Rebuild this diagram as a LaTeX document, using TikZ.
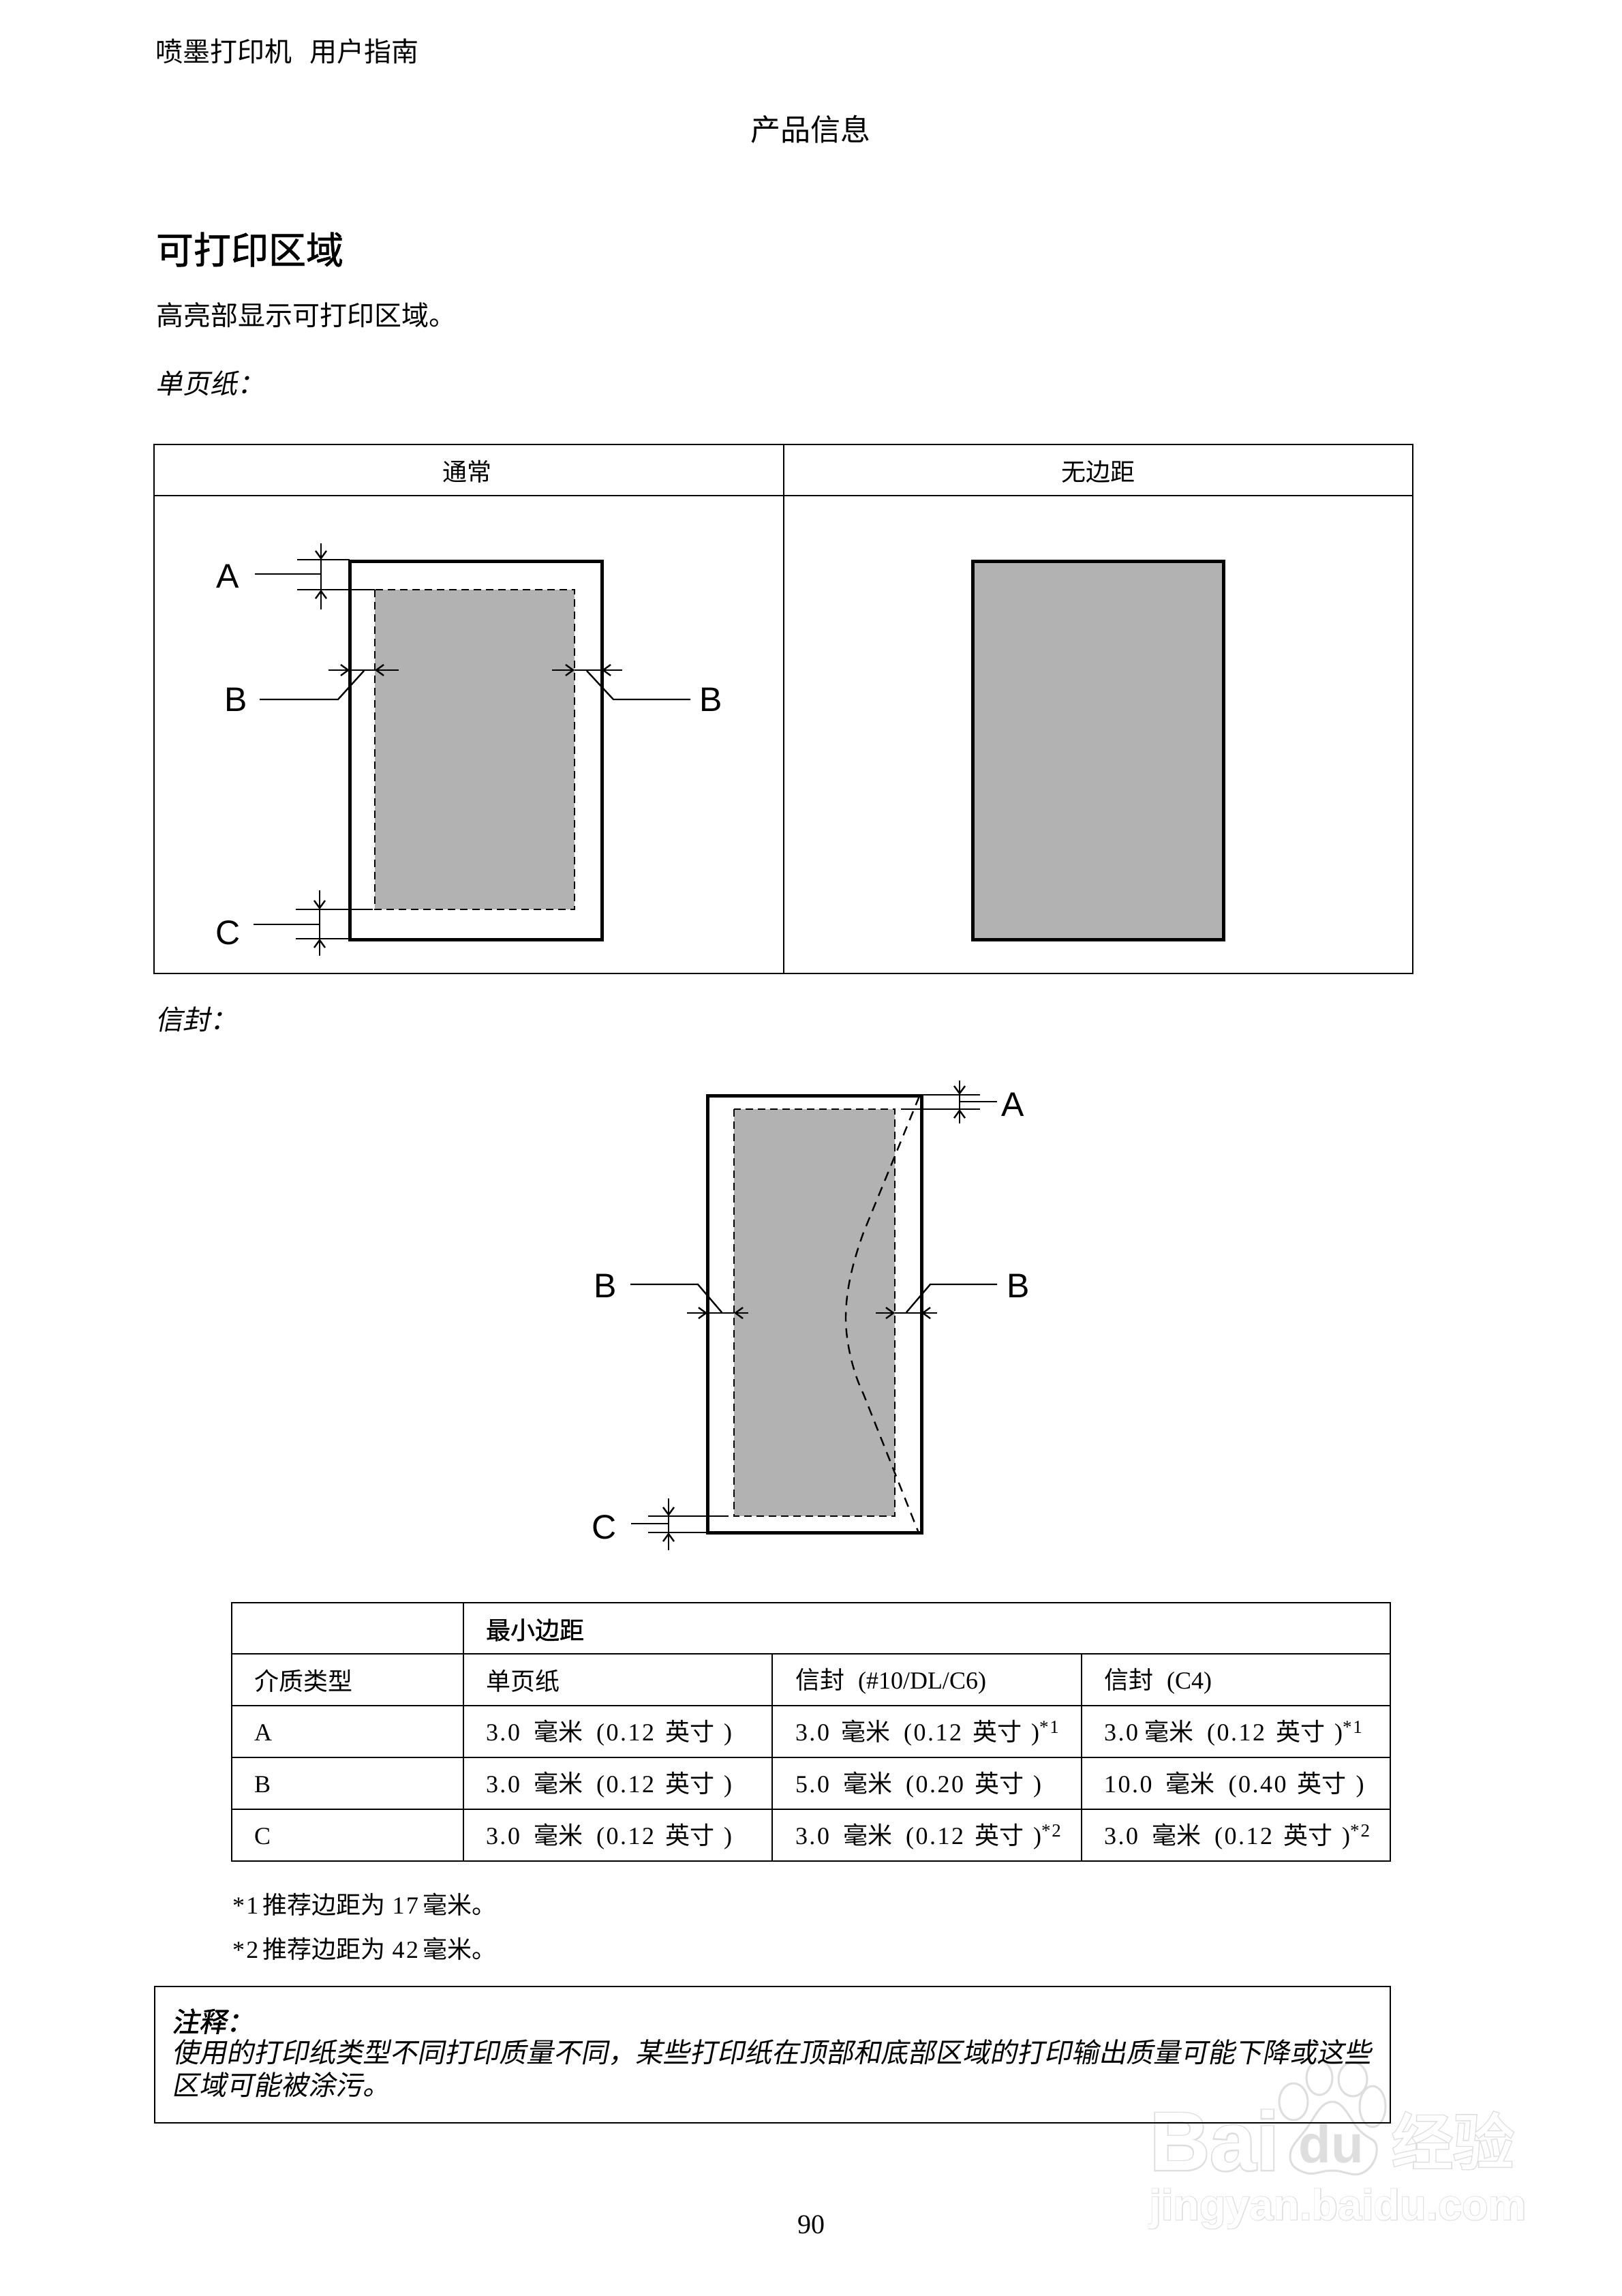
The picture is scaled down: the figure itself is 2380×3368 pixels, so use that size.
\documentclass[tikz,border=0pt]{standalone}
\usepackage{fontspec}
\usetikzlibrary{arrows.meta}
\setmainfont{Liberation Serif}
\newfontfamily\tabfont[LetterSpace=7]{Liberation Serif}
\newfontfamily\cjk{Noto Sans CJK SC}
\newfontfamily\cjkit[FakeSlant=0.2]{Noto Sans CJK SC}
\newfontfamily\cjkbf[FakeBold=1.2]{Noto Sans CJK SC}
\newfontfamily\cjkbi[FakeBold=1.5,FakeSlant=0.2]{Noto Sans CJK SC}
\newfontfamily\cjkout[FakeBold=5]{Noto Sans CJK SC}
\newfontfamily\cjkin[FakeBold=2]{Noto Sans CJK SC}
\newfontfamily\labelfont{Liberation Sans}
\newfontfamily\wmout[BoldFeatures={FakeBold=3}]{Liberation Sans}
\newcommand{\zh}[1]{{\cjk #1}}
\newcommand{\fsz}[1]{\fontsize{#1}{#1}\selectfont}
\newcommand{\mm}[3][20pt]{{\tabfont #2\hspace{#1}\zh{毫米}\hspace{20pt}(#3\hspace{16pt}\zh{英寸}\hspace{14pt})}}
\newcommand{\supmark}[1]{\raisebox{11pt}{\fsz{27}\tabfont*#1}}
\definecolor{areagray}{RGB}{178,178,178}
\definecolor{wmgray}{RGB}{222,222,222}
\tikzset{
  x=1pt,y=-1pt,
  txt/.style={inner sep=0pt,outer sep=0pt,anchor=west,font=\fsz{40}},
  ctr/.style={inner sep=0pt,outer sep=0pt,anchor=center,font=\fsz{36}},
  cell/.style={inner sep=0pt,outer sep=0pt,anchor=west,font=\fsz{36}},
  rule/.style={line width=2.2pt,black},
  heavy/.style={line width=5pt,black,line join=miter},
  thin line/.style={line width=2.4pt,black},
  flap/.style={line width=2.4pt,black,dash pattern=on 14pt off 10pt},
  dimr/.style={line width=2.4pt,black,-{Straight Barb[length=11pt,width=16pt]}},
  area edge/.style={black,line width=2pt,dash pattern=on 11pt off 7pt},
  marker/.style={inner sep=0pt,outer sep=0pt,anchor=center,font=\labelfont\fsz{50}},
  wmo/.style={inner sep=0pt,outer sep=0pt,text=wmgray},
  wmi/.style={inner sep=0pt,outer sep=0pt,text=white},
  paw/.style={draw=wmgray,line width=3pt,fill=white},
}
\begin{document}
\begin{tikzpicture}
\useasboundingbox (0,0) rectangle (2380,3368);
\fill[white] (0,0) rectangle (2380,3368);

% watermark, behind the page
\node[wmo,font=\wmout\bfseries\fsz{122}] (wmbaio) at (1782,3140) {Bai};
\node[wmi,font=\labelfont\bfseries\fsz{122}] (wmbaii) at (1782,3140) {Bai};
\draw[paw] (1898,3083) ellipse (21 and 27);
\draw[paw] (1936,3048) ellipse (19 and 25);
\draw[paw] (1985,3050) ellipse (21 and 25);
\draw[paw] (2014,3090) ellipse (19 and 30);
\draw[paw] plot[smooth cycle,tension=0.8] coordinates {(1955,3083) (1915,3125) (1893,3163) (1915,3187) (1955,3184) (2000,3187) (2020,3150) (1995,3125)};
\node[wmo,font=\labelfont\bfseries\fsz{78}] (wmdu) at (1953,3145) {du};
\node[wmo,font=\cjkout\fsz{90}] (wmjyo) at (2132,3140) {经验};
\node[wmi,font=\cjkin\fsz{90}] (wmjyi) at (2132,3140) {经验};
\node[wmo,font=\wmout\bfseries\fsz{63}] (wmurlo) at (1963,3240) {jingyan.baidu.com};
\node[wmi,font=\labelfont\bfseries\fsz{63}] (wmurli) at (1963,3240) {jingyan.baidu.com};

% page texts
\node[txt] (hdr) at (228,75) {\zh{喷墨打印机\hspace{26pt}用户指南}};
\node[txt,anchor=center,font=\fsz{44}] (chap) at (1189,190) {\zh{产品信息}};
\node[txt,font=\fsz{55}] (title) at (229,366) {\cjkbf 可打印区域};
\node[txt] (intro) at (229,462) {\zh{高亮部显示可打印区域。}};
\node[txt] (sheet) at (228,562) {\cjkit 单页纸：};
\node[txt] (envl) at (228,1495) {\cjkit 信封：};

% first table
\draw[rule] (226,652) rectangle (2073,1428);
\draw[rule] (226,727) -- (2073,727);
\draw[rule] (1150,652) -- (1150,1428);
\node[ctr] (h1) at (685,692) {\zh{通常}};
\node[ctr] (h2) at (1611,692) {\zh{无边距}};

% normal sheet
\fill[areagray] (550,865) rectangle (843,1334);
\draw[area edge] (550,865) rectangle (843,1334);
\draw[heavy] (513,823) rectangle (883,1378);
% A
\draw[thin line] (436,821) -- (513,821);
\draw[thin line] (436,865) -- (550,865);
\draw[thin line] (374,842) -- (471,842);
\draw[thin line] (471,821) -- (471,865);
\draw[dimr] (471,797) -- (471,821);
\draw[dimr] (471,894) -- (471,865);
\node[marker] (la) at (334,845) {A};
% B left
\draw[thin line] (513,983) -- (550,983);
\draw[dimr] (482,983) -- (513,983);
\draw[dimr] (585,983) -- (550,983);
\draw[thin line] (381,1026) -- (496,1026) -- (534,984);
\node[marker] (lb) at (346,1026) {B};
% B right
\draw[thin line] (843,983) -- (883,983);
\draw[dimr] (810,983) -- (843,983);
\draw[dimr] (913,983) -- (883,983);
\draw[thin line] (861,984) -- (900,1026) -- (1013,1026);
\node[marker] (rb) at (1043,1026) {B};
% C
\draw[thin line] (434,1334) -- (547,1334);
\draw[thin line] (434,1377) -- (513,1377);
\draw[thin line] (372,1356) -- (469,1356);
\draw[thin line] (469,1334) -- (469,1377);
\draw[dimr] (469,1306) -- (469,1334);
\draw[dimr] (469,1402) -- (469,1377);
\node[marker] (lc) at (335,1368) {C};

% borderless sheet
\draw[heavy,fill=areagray] (1427,823) rectangle (1795,1378);

% envelope
\fill[areagray] (1077,1627) rectangle (1313,2224);
\draw[area edge] (1077,1627) rectangle (1313,2224);
\draw[flap] (1349,1608) -- (1267,1808) .. controls (1250,1855) and (1241,1895) .. (1241,1934)
  .. controls (1241,1965) and (1250,2010) .. (1267,2045) -- (1347,2246);
\draw[heavy] (1038,1607) rectangle (1352,2248);
% A
\draw[thin line] (1352,1606) -- (1438,1606);
\draw[thin line] (1322,1627) -- (1438,1627);
\draw[thin line] (1408,1616) -- (1463,1616);
\draw[thin line] (1408,1606) -- (1408,1627);
\draw[dimr] (1408,1585) -- (1408,1606);
\draw[dimr] (1408,1648) -- (1408,1627);
\node[marker] (ea) at (1486,1620) {A};
% B left
\draw[thin line] (1038,1926) -- (1077,1926);
\draw[dimr] (1008,1926) -- (1038,1926);
\draw[dimr] (1098,1926) -- (1077,1926);
\draw[thin line] (925,1884) -- (1024,1884) -- (1059,1925);
\node[marker] (el) at (888,1886) {B};
% B right
\draw[thin line] (1313,1926) -- (1352,1926);
\draw[dimr] (1285,1926) -- (1313,1926);
\draw[dimr] (1375,1926) -- (1352,1926);
\draw[thin line] (1463,1884) -- (1365,1884) -- (1330,1925);
\node[marker] (er) at (1494,1886) {B};
% C
\draw[thin line] (951,2224) -- (1069,2224);
\draw[thin line] (951,2248) -- (1038,2248);
\draw[thin line] (926,2235) -- (981,2235);
\draw[thin line] (981,2224) -- (981,2248);
\draw[dimr] (981,2198) -- (981,2224);
\draw[dimr] (981,2274) -- (981,2248);
\node[marker] (ec) at (887,2240) {C};

% margins table
\draw[rule] (340,2351) rectangle (2040,2730);
\foreach \yy in {2426,2502,2578,2654} \draw[rule] (340,\yy) -- (2040,\yy);
\draw[rule] (680,2351) -- (680,2730);
\draw[rule] (1133,2426) -- (1133,2730);
\draw[rule] (1587,2426) -- (1587,2730);
\node[cell] (t01) at (713,2391) {\cjkbf 最小边距};
\node[cell] (t10) at (373,2466) {\zh{介质类型}};
\node[cell] (t11) at (713,2466) {\zh{单页纸}};
\node[cell] (t12) at (1167,2466) {\zh{信封}\hspace{20pt}(\#10/DL/C6)};
\node[cell] (t13) at (1620,2466) {\zh{信封}\hspace{20pt}(C4)};
\node[cell] (t20) at (373,2542) {\tabfont A};
\node[cell] (t21) at (713,2542) {\mm{3.0}{0.12}};
\node[cell] (t22) at (1167,2542) {\mm[17pt]{3.0}{0.12}\supmark{1}};
\node[cell] (t23) at (1620,2542) {\mm[9pt]{3.0}{0.12}\supmark{1}};
\node[cell] (t30) at (373,2618) {\tabfont B};
\node[cell] (t31) at (713,2618) {\mm{3.0}{0.12}};
\node[cell] (t32) at (1167,2618) {\mm{5.0}{0.20}};
\node[cell] (t33) at (1620,2618) {\mm{10.0}{0.40}};
\node[cell] (t40) at (373,2694) {\tabfont C};
\node[cell] (t41) at (713,2694) {\mm{3.0}{0.12}};
\node[cell] (t42) at (1167,2694) {\mm{3.0}{0.12}\supmark{2}};
\node[cell] (t43) at (1620,2694) {\mm{3.0}{0.12}\supmark{2}};

% footnotes
\node[cell] (f1) at (341,2794) {\tabfont *1\hspace{6pt}\zh{推荐边距为}\hspace{10pt}17\hspace{6pt}\zh{毫米。}};
\node[cell] (f2) at (341,2859) {\tabfont *2\hspace{6pt}\zh{推荐边距为}\hspace{10pt}42\hspace{6pt}\zh{毫米。}};

% note
\draw[rule] (227,2914) rectangle (2040,3114);
\node[txt] (n0) at (252,2965) {\cjkbi 注释：};
\node[txt] (n1) at (252,3011) {\cjkit 使用的打印纸类型不同打印质量不同，某些打印纸在顶部和底部区域的打印输出质量可能下降或这些};
\node[txt] (n2) at (252,3058) {\cjkit 区域可能被涂污。};

\node[txt,anchor=center] (pg) at (1190,3263) {90};
\end{tikzpicture}
\end{document}
